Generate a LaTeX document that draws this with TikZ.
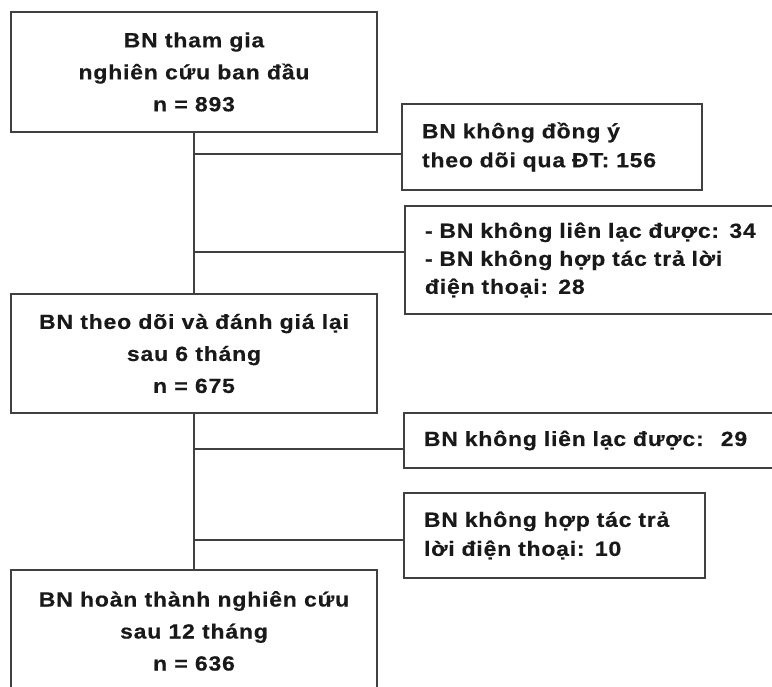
\documentclass[tikz,border=0pt]{standalone}
\usepackage{fontspec}
\setmainfont{Liberation Sans}[LetterSpace=4, FakeStretch=1.12, FakeBold=0.4]
\usetikzlibrary{calc}

\begin{document}
\begin{tikzpicture}[x=1pt, y=-1pt,
    box/.style={draw=black!75, line width=2pt, text=black!90, font=\fontsize{20.5}{32}\selectfont\bfseries, align=center, minimum width=366pt, minimum height=120pt, inner sep=0pt},
    side/.style={draw=black!75, line width=2pt, text=black!90, font=\fontsize{20.5}{29}\selectfont\bfseries, align=left, inner xsep=20pt, inner ysep=0pt},
    link/.style={draw=black!75, line width=2pt}]
    \useasboundingbox (0,0) rectangle (772,687);
    \clip (0,0) rectangle (772,687);
    \fill[white] (0,0) rectangle (772,687);

    \node[box] (start) at (194,72) {BN tham gia\\nghiên cứu ban đầu\\n = 893};
    \node[box, minimum height=119pt] (six) at (194,353.5) {BN theo dõi và đánh giá lại\\sau 6 tháng\\n = 675};
    \node[box, minimum height=122pt] (done) at (194,631) {BN hoàn thành nghiên cứu\\sau 12 tháng\\n = 636};

    \node[side, text width=260pt, minimum height=86pt] (refuse) at (552,147) {BN không đồng ý\\theo dõi qua ĐT: 156};
    \node[side, text width=340pt, minimum height=108pt, font=\fontsize{20.5}{28}\selectfont\bfseries] (lost) at (595,260) {- BN không liên lạc được: 34\\- BN không hợp tác trả lời\\điện thoại: 28};
    \node[side, text width=340pt, minimum height=55pt] (nocall) at (594,440.5) {BN không liên lạc được:~ 29};
    \node[side, text width=261pt, minimum height=85pt] (noreply) at (554.5,535.5) {BN không hợp tác trả\\lời điện thoại: 10};

    \coordinate (j1) at (194,154);
    \coordinate (j2) at (194,252);
    \coordinate (j3) at (194,449);
    \coordinate (j4) at (194,540);

    \draw[link] (start.south) -- (six.north);
    \draw[link] (six.south) -- (done.north);
    \draw[link] (j1) -- (j1 -| refuse.west);
    \draw[link] (j2) -- (j2 -| lost.west);
    \draw[link] (j3) -- (j3 -| nocall.west);
    \draw[link] (j4) -- (j4 -| noreply.west);
\end{tikzpicture}
\end{document}
